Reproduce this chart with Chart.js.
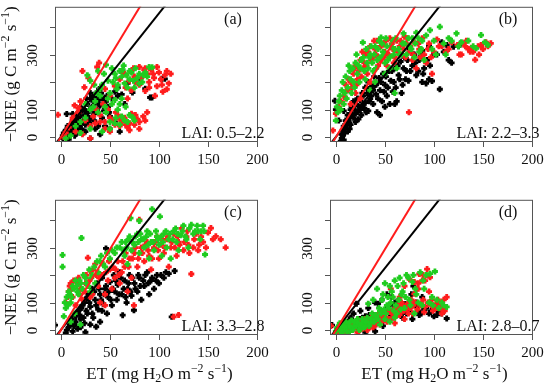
<!DOCTYPE html>
<html>
<head>
<meta charset="utf-8">
<script src="https://cdn.jsdelivr.net/npm/chart.js@4.4.0/dist/chart.umd.min.js"></script>
<style>
  html, body { margin: 0; padding: 0; background: #fff; }
  #wrap { position: relative; width: 550px; height: 386px; }
  .panel { position: absolute; width: 275px; height: 193px; }
</style>
</head>
<body>
<div id="wrap"></div>
<script>
// panel labels and axis ticks
var panelTags = ['(a)', '(b)', '(c)', '(d)'];
var laiLabels = ['LAI: 0.5\u20132.2', 'LAI: 2.2\u20133.3', 'LAI: 3.3\u20132.8', 'LAI: 2.8\u20130.7'];
var xTicks = [0, 50, 100, 150, 200];
var yTicks = [0, 100, 200, 300, 400];
var yTickLabels = ['0', '100', '', '300', ''];

// reference lines (same in every panel)
var redLine = [[-5, -30], [85, 500]];
var blackLine = [[-5, -22], [110, 495]];

// (a) LAI 0.5-2.2  [ET, -NEE]
var aBlack = [[2,5],[4,12],[5,3],[6,20],[8,10],[9,30],[10,45],[11,18],[12,60],[13,35],[14,5],[15,50],[16,80],[17,25],[18,65],[19,40],[20,90],[21,55],[22,15],[23,75],[24,100],[25,45],[26,85],[27,120],[28,60],[29,95],[30,140],[31,70],[32,110],[33,150],[34,85],[35,125],[36,160],[37,100],[38,135],[39,175],[40,115],[42,145],[44,95],[46,130],[48,110],[50,75],[52,140],[55,165],[58,180],[62,155],[68,195],[73,162],[80,205],[91,144],[103,212],[6,84],[12,84],[16,82],[2,-5],[8,-8],[15,10],[25,20],[35,30],[45,40],[40,10],[50,30],[55,55],[60,20],[30,-5],
    [3,15],[5,25],[7,40],[9,8],[11,30],[13,50],[15,65],[17,45],[19,75],[21,30],[23,55],[25,95],[27,75],[29,50],[31,105],[33,130],[35,90],[37,145],[39,120],[41,160],[43,135],[45,105],[47,150],[49,90],[30,160],[26,140],[34,60],[38,40],[42,70],[20,110],[86,176],[93,144],[106,212],[58,150],[65,120]];
var aRed = [[-3,81],[22,240],[39,270],[37,255],[28,215],[20,130],[18,105],[12,70],[8,35],[5,15],[3,0],[25,60],[30,40],[33,75],[40,55],[45,30],[50,70],[53,60],[55,45],[58,80],[60,40],[62,55],[65,70],[68,35],[70,50],[72,85],[75,45],[78,65],[80,30],[84,75],[86,168],[88,230],[90,200],[92,245],[95,215],[98,185],[100,235],[103,190],[106,225],[108,174],[108,240],[96,150],[80,190],[70,205],[60,210],[55,185],[65,230],[75,220],[85,245],[50,150],[45,175],[43,120],[36,100],[48,100],[15,20],[22,10],[30,-5],
    [68,140],[72,170],[76,200],[82,215],[86,250],[90,180],[94,230],[98,255],[102,210],[104,165],[110,195],[112,230],[74,250],[80,255],[66,180],[62,240],[24,181],[14,115],[18,90],[50,20],[60,65],[70,25],[80,55],[88,90],[86,60],[76,80],[66,45],[56,90],[45,55],[40,80],[35,50]];
var aGreen = [[27,225],[46,263],[30,205],[42,190],[50,160],[53,200],[55,230],[57,175],[60,240],[62,220],[63,245],[65,195],[67,225],[70,210],[72,235],[75,180],[78,215],[80,230],[83,200],[86,235],[90,255],[93,254],[88,220],[60,120],[55,135],[48,140],[45,110],[40,150],[35,130],[38,90],[73,72],[65,60],[60,45],[55,50],[70,80],[50,30],[42,20],[30,30],[20,15],[10,5],[5,-5],[15,40],[25,70],[20,55],[33,110],
    [36,160],[40,175],[44,230],[48,205],[52,250],[56,215],[58,190],[64,260],[68,180],[70,240],[74,205],[76,250],[80,195],[84,225],[58,100],[52,120],[62,140],[66,110],[46,90],[56,70],[62,75],[68,55],[75,60],[50,55],[30,100],[25,120],[34,190],[38,240]];

// (b) LAI 2.2-3.3
var bBlack = [[5,-15],[6,-5],[7,5],[8,-10],[9,15],[7,25],[10,35],[12,20],[11,50],[13,60],[15,45],[14,75],[16,85],[18,70],[19,100],[20,55],[21,120],[22,90],[24,110],[25,135],[26,80],[28,150],[29,105],[30,125],[32,160],[33,95],[34,175],[35,140],[37,185],[38,120],[40,200],[41,155],[42,90],[44,215],[45,170],[47,130],[48,230],[50,190],[52,150],[54,240],[56,205],[58,165],[60,250],[62,130],[64,225],[66,275],[68,190],[70,290],[72,240],[74,205],[75,320],[78,260],[80,300],[82,225],[85,280],[88,315],[90,250],[92,195],[95,330],[98,204],[100,300],[106,174],[108,345],[113,335],[120,329],[115,280],[118,270],[-1,132],[0,100],[3,60],[8,95],[60,120],[50,110],[45,80],[15,100],
    [6,10],[8,40],[10,60],[12,80],[14,30],[16,110],[18,130],[20,85],[22,140],[23,65],[25,100],[27,160],[28,120],[30,180],[31,90],[33,200],[34,130],[36,150],[38,170],[39,220],[41,190],[43,140],[46,200],[49,165],[51,220],[53,180],[55,120],[57,240],[59,200],[61,180],[63,260],[65,210],[67,160],[69,250],[71,210],[73,280],[76,240],[79,300],[81,270],[84,240],[87,295],[89,230],[93,280],[96,260],[103,300],[110,310],[125,330],[127,340],[95,210],[88,200]];
var bRed = [[-3,24],[0,85],[3,110],[5,130],[8,150],[10,190],[12,170],[15,200],[18,230],[20,260],[22,210],[25,280],[28,250],[30,300],[32,230],[35,330],[38,290],[40,320],[42,350],[45,280],[48,340],[50,310],[52,260],[55,360],[58,320],[60,290],[62,350],[65,330],[68,300],[70,365],[72,340],[74.5,90],[75,310],[78,280],[80,345],[82,250],[85,320],[88,360],[90,300],[92,270],[95,340],[98,230],[100,310],[103,355],[108,330],[112,310],[118,345],[124,335],[126,300],[130,340],[135,320],[140,310],[142,281],[145,330],[150,320],[153,345],[158,341],[20,160],[25,140],[35,200],[15,120],
    [10,140],[13,210],[16,180],[19,250],[21,190],[23,240],[26,220],[27,310],[29,270],[31,260],[33,310],[36,280],[39,350],[41,300],[43,260],[46,330],[49,290],[51,350],[54,300],[57,340],[59,270],[63,310],[66,350],[69,320],[71,290],[73,360],[76,330],[79,300],[84,340],[86,290],[94,320],[97,290],[105,330],[115,320],[128,300],[133,350],[138,325],[148,335],[132,330],[137,310],[146,300],[155,330]];
var bGreen = [[0,60],[2,90],[4,150],[6,170],[8,120],[10,220],[12,180],[14,240],[16,160],[18,200],[20,270],[22,230],[25,250],[27.5,344],[28,290],[30,210],[32,270],[35,300],[38,240],[40,330],[42,280],[44,350],[46,362],[48,310],[50,270],[52,330],[55,290],[58,350],[60,320],[62,250],[65,300],[68,340],[69,377],[72,300],[75,330],[78,360],[80,290],[82,380],[85,310],[88,350],[90,280],[92,370],[96,389],[98,320],[100,350],[102,300],[106,401],[110,340],[112,300],[115,360],[118,350],[123,377],[125,330],[128,345],[135,350],[140,330],[143,323],[148,371],[152,345],[155,335],[60,160],[35,170],
    [1,110],[3,130],[5,100],[7,200],[9,160],[11,140],[13,260],[15,210],[17,250],[19,180],[21,300],[23,260],[24,200],[26,280],[29,240],[31,320],[33,250],[34,290],[36,330],[37,270],[39,300],[41,250],[43,320],[45,290],[47,340],[49,300],[51,360],[53,280],[56,330],[59,300],[61,360],[64,320],[67,300],[70,340],[74,360],[77,320],[81,340],[84,360],[87,320],[40,200],[50,230],[55,250]];

// (c) LAI 3.3-2.8
var cBlack = [[-6,18],[5,-10],[8,10],[10,30],[12,-5],[14,20],[15,50],[17,5],[18,70],[20,40],[22,90],[24,25],[25,110],[27,60],[28,130],[30,85],[32,150],[33,45],[35,110],[36,12],[37,170],[38,75],[40,130],[42,190],[43,95],[45,150],[46,297],[47,60],[48,120],[50,175],[52,90],[54,200],[55,140],[57,110],[58,165],[60,210],[62,130],[63,54],[65,180],[67,100],[68,150],[70,200],[72,125],[74.5,72],[75,170],[78,140],[80,190],[82,110],[85,160],[88,210],[90,130],[92,180],[95,150],[98,200],[100,170],[105,190],[110,205],[113,48],[116,215],[30,20],[40,30],[20,10],[25,-8],
    [6,0],[9,20],[11,40],[13,15],[15,30],[16,60],[19,55],[21,80],[23,45],[24,100],[26,70],[27,120],[29,100],[31,130],[32,60],[34,140],[36,90],[39,150],[41,110],[42,70],[44,130],[46,160],[49,140],[51,110],[53,150],[56,180],[59,130],[61,190],[64,150],[66,120],[69,170],[71,140],[73,190],[76,150],[79,200],[81,160],[84,180],[86,200],[89,170],[93,190],[97,180],[102,200],[107,210]];
var cRed = [[5,100],[8,140],[10,170],[12,120],[15,90],[18,190],[20,150],[22,110],[25,170],[27.5,263],[30,215],[32,130],[35,240],[38,160],[40,100],[42,200],[45,130],[48,180],[50,220],[52,150],[55,190],[58,250],[60,170],[62,210],[65,230],[68,140],[70,260],[72,190],[74.5,90],[75,280],[78,230],[80,401],[82,300],[85,250],[88,320],[90,270],[92,220],[95,300],[98,340],[100,260],[102,310],[105,280],[108,330],[110,230],[112,300],[115,48],[115,350],[118,270],[120,55],[120,320],[123,370],[125,290],[128,340],[130,310],[133,204],[135,300],[138,350],[140,290],[145,320],[150,355],[153,371],[158,341],[163,330],[168,300],[45,90],[30,120],
    [7,120],[9,160],[11,150],[13,180],[17,170],[19,130],[24,140],[26,200],[29,180],[33,220],[36,200],[39,190],[43,240],[46,210],[49,250],[53,230],[56,220],[59,200],[63,250],[66,280],[69,230],[73,260],[76,300],[79,260],[83,280],[86,310],[89,290],[93,260],[96,320],[99,290],[103,330],[106,300],[109,340],[113,320],[116,300],[119,340],[121,310],[126,320],[129,360],[131,280],[136,330],[141,310],[143,340],[148,300],[155,330]];
var cGreen = [[1.7,273],[1.7,230],[3,50],[5,80],[6,120],[8,140],[10,100],[12,160],[14,60],[15,180],[18,130],[20,170],[21,335],[22,150],[25,190],[28,160],[30,140],[32,200],[35,170],[38,210],[40,250],[45,230],[50,260],[55,280],[60,300],[65,270],[66,320],[68,240],[70,340],[71,407],[72,290],[75,310],[78,350],[80,397],[80,280],[82,330],[85,300],[88,360],[90,260],[92,320],[93,440],[95,290],[98,340],[100,310],[101,413],[103,270],[105,350],[108,300],[110,330],[112,260],[115,360],[118,320],[120,290],[122,345],[125,380],[128,330],[130,300],[133,383],[135,350],[140,360],[142,330],[147,275],[145,380],[10,30],[20,20],
    [4,100],[7,90],[9,130],[11,120],[13,150],[16,160],[17,140],[19,180],[23,200],[26,170],[29,220],[31,190],[34,230],[37,250],[41,270],[43,240],[47,280],[52,290],[57,300],[62,320],[64,290],[67,300],[69,330],[73,320],[76,340],[79,320],[81,350],[84,330],[87,340],[89,310],[91,350],[94,320],[97,360],[99,330],[102,340],[104,320],[107,360],[111,350],[114,330],[117,370],[119,350],[124,360],[127,340],[131,370],[137,360],[139,380],[143,360],[146,360]];

// (d) LAI 2.8-0.7
var dBlack = [[-4,18],[2,-10],[4,5],[6,20],[8,-5],[10,10],[12,30],[14,0],[15,45],[16,15],[18,60],[20,25],[21,96],[22,5],[24,40],[25,70],[26,15],[28,30],[30,50],[32,10],[33,80],[35,35],[36,20],[38,55],[40,100],[42,25],[43,96],[45,45],[47,110],[48,15],[50,60],[52,130],[53,84],[55,40],[57,120],[58,70],[60,100],[62,55],[65,80],[68,45],[70,95],[72,60],[75,70],[78,40],[80,90],[83,84],[85,55],[88,120],[90,75],[95,60],[100,50],[105,65],[113,42],[30,-8],[40,-5],
    [3,10],[5,-5],[7,15],[9,25],[11,-5],[13,20],[17,35],[19,10],[23,30],[27,45],[29,20],[31,35],[34,55],[37,30],[39,15],[41,45],[44,60],[46,30],[49,50],[51,40],[54,70],[56,55],[59,90],[61,75],[64,110],[66,60],[69,80],[74,95],[77,130],[79,160],[82,100],[84,70],[87,60],[92,80],[97,70],[103,55],[108,60]];
var dRed = [[-5,15],[3,0],[5,-10],[8,10],[10,25],[12,-5],[14,15],[16,30],[18,5],[20,20],[22,-8],[24,35],[26,10],[28,25],[30,40],[32,0],[34,20],[36,45],[38,10],[40,30],[42,55],[45,20],[48,40],[50,60],[52,30],[55,70],[58,45],[60,25],[62,80],[65,55],[68,90],[70,40],[72,75],[75,100],[78,60],[80,132],[82,150],[84,170],[85,204],[86,90],[88,180],[90,65],[93,222],[95,140],[96,192],[98,110],[100,80],[102,95],[105,100],[106,78],[108,60],[110,110],[113,120],[75,185],[70,160],[65,120],[56,150],
    [2,-5],[4,10],[7,0],[9,-5],[11,20],[13,10],[15,0],[17,25],[19,15],[21,30],[23,-5],[25,20],[27,5],[29,35],[31,15],[33,30],[35,10],[37,25],[39,40],[41,20],[43,35],[44,60],[46,50],[47,30],[49,55],[51,45],[53,65],[54,40],[57,60],[59,75],[61,50],[63,70],[64,90],[66,65],[67,100],[69,70],[71,85],[73,95],[74,60],[76,80],[77,110],[79,90],[81,100],[83,75],[87,95],[89,110],[91,85],[94,100],[97,90],[99,70],[103,80],[104,110],[107,95],[109,80],[111,70],[91,180],[89,200],[84,150],[80,175]];
var dGreen = [[0,-5],[2,10],[4,25],[6,-10],[8,5],[10,30],[12,15],[14,-5],[16,35],[18,10],[20,20],[22,40],[25,5],[28,30],[30,15],[32,45],[33,96],[35,25],[38,110],[40,50],[42,150],[45,70],[48,130],[50,170],[52,90],[55,160],[58,120],[60,180],[62,60],[65,190],[68,140],[70,80],[72,200],[75,110],[78,175],[80,60],[82,130],[86,210],[88,90],[90,150],[95,100],[98,120],[101,213],[105,80],[108,100],[113,84],[45,20],[50,40],[55,30],[60,45],
    [1,5],[3,15],[5,0],[7,20],[9,10],[11,-5],[13,25],[15,10],[17,0],[19,30],[21,15],[23,25],[24,0],[26,20],[27,40],[29,10],[31,30],[34,15],[36,40],[37,60],[39,30],[41,55],[43,40],[44,80],[46,60],[47,110],[49,75],[51,60],[53,120],[54,80],[56,100],[57,140],[59,70],[61,90],[63,160],[64,110],[66,75],[67,130],[69,170],[71,120],[74,190],[76,90],[79,200],[81,150],[84,100],[89,180],[92,200],[96,205],[99,90],[103,110],[110,90]];

var panels = [
    {black: aBlack, red: aRed, green: aGreen, left: 0, top: 0},
    {black: bBlack, red: bRed, green: bGreen, left: 275, top: 0},
    {black: cBlack, red: cRed, green: cGreen, left: 0, top: 193},
    {black: dBlack, red: dRed, green: dGreen, left: 275, top: 193}
];

var FONT = '"Liberation Serif", "Times New Roman", serif';
var RED = '#ff1c1c';
var GREEN = '#1fcc1f';

function toXY(arr) {
    return arr.map(function(p) { return {x: p[0], y: p[1]}; });
}

// text with super/subscripts, centred on x
function richText(ctx, parts, x, y, size) {
    var total = 0;
    parts.forEach(function(p) {
        ctx.font = (p.s ? size * 0.7 : size) + 'px ' + FONT;
        total += ctx.measureText(p.t).width;
    });
    var cx = x - total / 2;
    ctx.textAlign = 'left';
    parts.forEach(function(p) {
        var fs = p.s ? size * 0.7 : size;
        ctx.font = fs + 'px ' + FONT;
        var dy = p.s === 'sup' ? -size * 0.36 : (p.s === 'sub' ? size * 0.25 : 0);
        ctx.fillText(p.t, cx, y + dy);
        cx += ctx.measureText(p.t).width;
    });
}

var yTitle = [{t: '\u2212NEE (g C m'}, {t: '\u22122', s: 'sup'}, {t: ' s'}, {t: '\u22121', s: 'sup'}, {t: ')'}];
var xTitle = [{t: 'ET (mg H'}, {t: '2', s: 'sub'}, {t: 'O m'}, {t: '\u22122', s: 'sup'}, {t: ' s'}, {t: '\u22121', s: 'sup'}, {t: ')'}];

var framePlugin = {
    id: 'frame',
    afterDraw: function(chart, args, opts) {
        var ctx = chart.ctx, a = chart.chartArea;
        var xs = chart.scales.x, ys = chart.scales.y;
        ctx.save();
        ctx.strokeStyle = '#555';
        ctx.lineWidth = 1;
        ctx.strokeRect(a.left + 0.5, a.top + 0.5, a.right - a.left - 1, a.bottom - a.top - 1);
        ctx.fillStyle = '#111';
        ctx.textBaseline = 'middle';
        ctx.textAlign = 'center';
        ctx.font = '15px ' + FONT;
        xTicks.forEach(function(v) {
            var px = Math.round(xs.getPixelForValue(v)) + 0.5;
            ctx.beginPath(); ctx.moveTo(px, a.bottom); ctx.lineTo(px, a.bottom + 5); ctx.stroke();
            ctx.fillText(String(v), px, a.bottom + 18);
        });
        yTicks.forEach(function(v, i) {
            var py = Math.round(ys.getPixelForValue(v)) + 0.5;
            ctx.beginPath(); ctx.moveTo(a.left, py); ctx.lineTo(a.left - 5, py); ctx.stroke();
            if (yTickLabels[i]) {
                ctx.save();
                ctx.translate(a.left - 22, py);
                ctx.rotate(-Math.PI / 2);
                ctx.textAlign = 'center';
                ctx.fillText(yTickLabels[i], 0, 0);
                ctx.restore();
            }
        });
        ctx.font = '16px ' + FONT;
        ctx.textAlign = 'center';
        ctx.fillText(opts.tag, a.right - 25, a.top + 13);
        ctx.fillText(opts.lai, a.right - 35, a.bottom - 8);
        if (opts.yTitle) {
            ctx.save();
            ctx.translate(a.left - 43, (a.top + a.bottom) / 2);
            ctx.rotate(-Math.PI / 2);
            richText(ctx, yTitle, 0, 0, 17);
            ctx.restore();
        }
        if (opts.xTitle) {
            richText(ctx, xTitle, (a.left + a.right) / 2 + 3, a.bottom + 40, 17);
        }
        ctx.restore();
    }
};

var wrap = document.getElementById('wrap');
panels.forEach(function(p, i) {
    var div = document.createElement('div');
    div.className = 'panel';
    div.style.left = p.left + 'px';
    div.style.top = p.top + 'px';
    var canvas = document.createElement('canvas');
    canvas.width = 275;
    canvas.height = 193;
    div.appendChild(canvas);
    wrap.appendChild(div);

    var pointStyle = {pointStyle: 'cross', pointRadius: 3, borderWidth: 2.8, showLine: false};
    new Chart(canvas.getContext('2d'), {
        type: 'scatter',
        data: {
            datasets: [
                {type: 'line', data: toXY(redLine), borderColor: RED, borderWidth: 2, pointRadius: 0, fill: false},
                {type: 'line', data: toXY(blackLine), borderColor: '#000', borderWidth: 2, pointRadius: 0, fill: false},
                Object.assign({data: toXY(p.green), borderColor: GREEN, backgroundColor: GREEN}, pointStyle),
                Object.assign({data: toXY(p.red), borderColor: RED, backgroundColor: RED}, pointStyle),
                Object.assign({data: toXY(p.black), borderColor: '#000', backgroundColor: '#000'}, pointStyle)
            ]
        },
        options: {
            responsive: false,
            animation: false,
            devicePixelRatio: 1,
            layout: {padding: {left: 55, right: 17, top: 5, bottom: 51}},
            scales: {
                x: {type: 'linear', display: false, min: -6, max: 201},
                y: {type: 'linear', display: false, min: -18, max: 474}
            },
            plugins: {
                legend: {display: false},
                tooltip: {enabled: false},
                frame: {tag: panelTags[i], lai: laiLabels[i], yTitle: i % 2 === 0, xTitle: i >= 2}
            }
        },
        plugins: [framePlugin]
    });
});
</script>
</body>
</html>
